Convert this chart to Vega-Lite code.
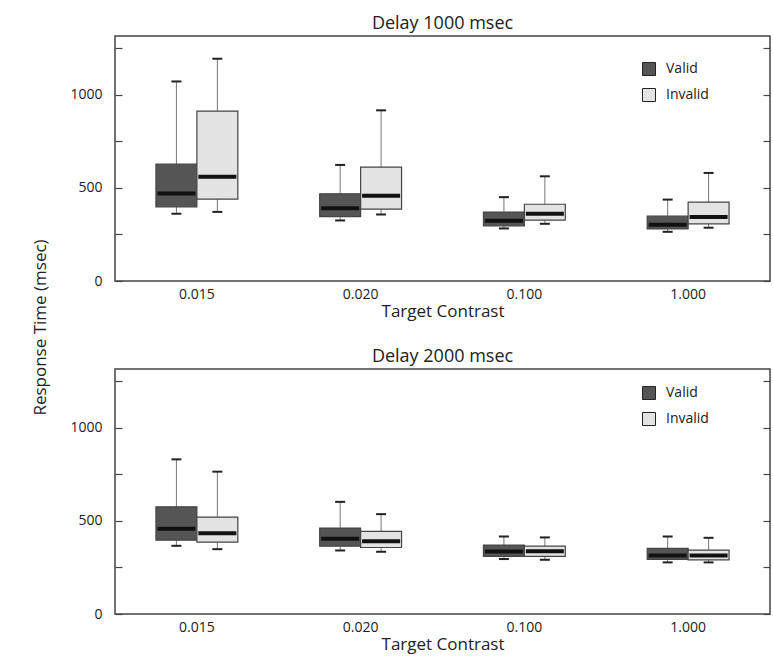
{
  "$schema": "https://vega.github.io/schema/vega-lite/v6.json",
  "padding": {"left": 31, "top": 14, "right": 5, "bottom": 5},
  "background": "white",
  "config": {
    "font": "Open Sans",
    "view": {"stroke": "#444", "strokeWidth": 1.5},
    "title": {"fontSize": 18, "fontWeight": "normal", "color": "#222", "offset": 3},
    "axis": {"labelFontSize": 14, "titleFontSize": 17, "titleFontWeight": "normal", "labelColor": "#222", "titleColor": "#222", "grid": false},
    "legend": {"labelFontSize": 14, "labelColor": "#222"}
  },
  "data": {"values": [
    {"delay": 1000, "contrast": "0.015", "cue": "Valid", "lower": 361, "q1": 398, "median": 470, "q3": 627, "upper": 1071},
    {"delay": 1000, "contrast": "0.015", "cue": "Invalid", "lower": 371, "q1": 439, "median": 559, "q3": 912, "upper": 1193},
    {"delay": 1000, "contrast": "0.020", "cue": "Valid", "lower": 325, "q1": 346, "median": 391, "q3": 468, "upper": 623},
    {"delay": 1000, "contrast": "0.020", "cue": "Invalid", "lower": 357, "q1": 386, "median": 457, "q3": 611, "upper": 916},
    {"delay": 1000, "contrast": "0.100", "cue": "Valid", "lower": 282, "q1": 296, "median": 323, "q3": 370, "upper": 450},
    {"delay": 1000, "contrast": "0.100", "cue": "Invalid", "lower": 307, "q1": 327, "median": 361, "q3": 412, "upper": 562},
    {"delay": 1000, "contrast": "1.000", "cue": "Valid", "lower": 264, "q1": 279, "median": 302, "q3": 348, "upper": 437},
    {"delay": 1000, "contrast": "1.000", "cue": "Invalid", "lower": 286, "q1": 307, "median": 343, "q3": 423, "upper": 580},
    {"delay": 2000, "contrast": "0.015", "cue": "Valid", "lower": 366, "q1": 396, "median": 457, "q3": 575, "upper": 830},
    {"delay": 2000, "contrast": "0.015", "cue": "Invalid", "lower": 348, "q1": 386, "median": 434, "q3": 520, "upper": 764},
    {"delay": 2000, "contrast": "0.020", "cue": "Valid", "lower": 341, "q1": 364, "median": 404, "q3": 461, "upper": 602},
    {"delay": 2000, "contrast": "0.020", "cue": "Invalid", "lower": 334, "q1": 357, "median": 391, "q3": 443, "upper": 536},
    {"delay": 2000, "contrast": "0.100", "cue": "Valid", "lower": 295, "q1": 309, "median": 336, "q3": 370, "upper": 416},
    {"delay": 2000, "contrast": "0.100", "cue": "Invalid", "lower": 291, "q1": 309, "median": 337, "q3": 364, "upper": 411},
    {"delay": 2000, "contrast": "1.000", "cue": "Valid", "lower": 277, "q1": 293, "median": 314, "q3": 352, "upper": 416},
    {"delay": 2000, "contrast": "1.000", "cue": "Invalid", "lower": 277, "q1": 291, "median": 314, "q3": 343, "upper": 409}
  ]},
  "bounds": "flush",
  "spacing": 88,
  "resolve": {"legend": {"fill": "independent"}},
  "vconcat": [
    {
      "width": 655, "height": 245,
      "title": "Delay 1000 msec",
      "transform": [{"filter": "datum.delay === 1000"}],
      "encoding": {
        "x": {"field": "contrast", "type": "nominal", "sort": ["0.015", "0.020", "0.100", "1.000"],
              "scale": {"paddingInner": 0, "paddingOuter": 0},
              "axis": {"title": "Target Contrast", "labelAngle": 0, "ticks": false, "domain": false, "labelPadding": 6, "titlePadding": 2}},
        "xOffset": {"field": "cue", "type": "nominal", "sort": ["Valid", "Invalid"], "scale": {"paddingInner": 0, "paddingOuter": 1.16}}
      },
      "resolve": {"axis": {"y": "independent"}},
      "layer": [
        {"mark": {"type": "rule", "color": "#777", "strokeWidth": 1},
         "encoding": {"y": {"field": "lower", "type": "quantitative", "scale": {"domain": [0, 1315], "nice": false},
                            "axis": {"title": "Response Time (msec)", "titleY": 291, "titlePadding": 20, "values": [0, 250, 500, 750, 1000, 1250], "labelExpr": "datum.value % 500 === 0 ? datum.label : ''", "tickSize": -7, "tickColor": "#444", "tickWidth": 1.2, "domain": false, "labelPadding": 20, "format": "d"}},
                      "y2": {"field": "upper"}}},
        {"mark": {"type": "tick", "size": 10, "thickness": 2, "color": "#222", "opacity": 1},
         "encoding": {"y": {"field": "lower", "type": "quantitative", "axis": null}}},
        {"mark": {"type": "tick", "size": 10, "thickness": 2, "color": "#222", "opacity": 1},
         "encoding": {"y": {"field": "upper", "type": "quantitative", "axis": null}}},
        {"mark": {"type": "bar", "stroke": "#444", "strokeWidth": 1.2},
         "encoding": {"y": {"field": "q1", "type": "quantitative", "axis": null}, "y2": {"field": "q3"},
                      "fill": {"field": "cue", "type": "nominal", "sort": ["Valid", "Invalid"], "scale": {"domain": ["Valid", "Invalid"], "range": ["#555555", "#e3e3e3"]},
                               "legend": {"title": null, "orient": "none", "legendX": 527, "legendY": 26, "symbolType": "square", "symbolSize": 169, "symbolStrokeColor": "#222", "symbolStrokeWidth": 1, "symbolOpacity": 1, "rowPadding": 8, "labelOffset": 10}}}},
        {"mark": {"type": "tick", "size": 38, "thickness": 4, "color": "#111", "opacity": 1},
         "encoding": {"y": {"field": "median", "type": "quantitative", "axis": null}}},
        {"mark": {"type": "rule", "opacity": 0},
         "encoding": {"y": {"field": "median", "type": "quantitative", "axis": {"orient": "right", "title": null, "labels": false, "domain": false, "values": [0, 250, 500, 750, 1000, 1250], "tickSize": -7, "tickWidth": 1.2, "tickColor": "#444"}}}}
      ]
    },
    {
      "width": 655, "height": 245,
      "title": "Delay 2000 msec",
      "transform": [{"filter": "datum.delay === 2000"}],
      "encoding": {
        "x": {"field": "contrast", "type": "nominal", "sort": ["0.015", "0.020", "0.100", "1.000"],
              "scale": {"paddingInner": 0, "paddingOuter": 0},
              "axis": {"title": "Target Contrast", "labelAngle": 0, "ticks": false, "domain": false, "labelPadding": 6, "titlePadding": 2}},
        "xOffset": {"field": "cue", "type": "nominal", "sort": ["Valid", "Invalid"], "scale": {"paddingInner": 0, "paddingOuter": 1.16}}
      },
      "resolve": {"axis": {"y": "independent"}},
      "layer": [
        {"mark": {"type": "rule", "color": "#777", "strokeWidth": 1},
         "encoding": {"y": {"field": "lower", "type": "quantitative", "scale": {"domain": [0, 1315], "nice": false},
                            "axis": {"title": null, "values": [0, 250, 500, 750, 1000, 1250], "labelExpr": "datum.value % 500 === 0 ? datum.label : ''", "tickSize": -7, "tickColor": "#444", "tickWidth": 1.2, "domain": false, "labelPadding": 20, "format": "d"}},
                      "y2": {"field": "upper"}}},
        {"mark": {"type": "tick", "size": 10, "thickness": 2, "color": "#222", "opacity": 1},
         "encoding": {"y": {"field": "lower", "type": "quantitative", "axis": null}}},
        {"mark": {"type": "tick", "size": 10, "thickness": 2, "color": "#222", "opacity": 1},
         "encoding": {"y": {"field": "upper", "type": "quantitative", "axis": null}}},
        {"mark": {"type": "bar", "stroke": "#444", "strokeWidth": 1.2},
         "encoding": {"y": {"field": "q1", "type": "quantitative", "axis": null}, "y2": {"field": "q3"},
                      "fill": {"field": "cue", "type": "nominal", "sort": ["Valid", "Invalid"], "scale": {"domain": ["Valid", "Invalid"], "range": ["#555555", "#e3e3e3"]},
                               "legend": {"title": null, "orient": "none", "legendX": 527, "legendY": 17, "symbolType": "square", "symbolSize": 169, "symbolStrokeColor": "#222", "symbolStrokeWidth": 1, "symbolOpacity": 1, "rowPadding": 8, "labelOffset": 10}}}},
        {"mark": {"type": "tick", "size": 38, "thickness": 4, "color": "#111", "opacity": 1},
         "encoding": {"y": {"field": "median", "type": "quantitative", "axis": null}}},
        {"mark": {"type": "rule", "opacity": 0},
         "encoding": {"y": {"field": "median", "type": "quantitative", "axis": {"orient": "right", "title": null, "labels": false, "domain": false, "values": [0, 250, 500, 750, 1000, 1250], "tickSize": -7, "tickWidth": 1.2, "tickColor": "#444"}}}}
      ]
    }
  ]
}
